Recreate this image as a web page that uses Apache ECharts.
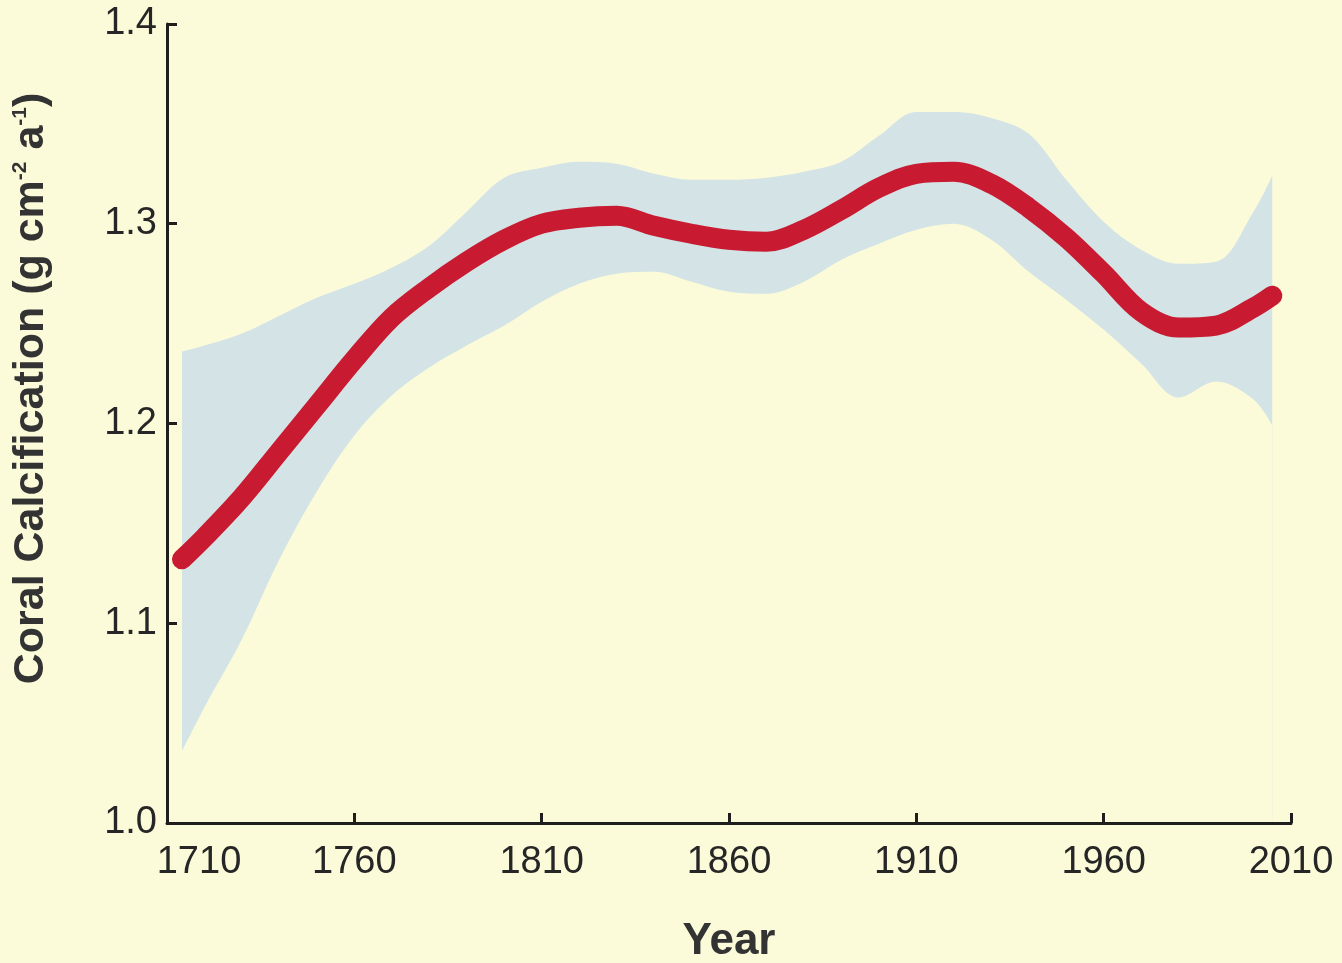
<!DOCTYPE html>
<html>
<head>
<meta charset="utf-8">
<title>Coral Calcification</title>
<script src="https://cdn.jsdelivr.net/npm/echarts@6/dist/echarts.min.js"></script>
<style>
  html, body { margin: 0; padding: 0; background: #fbfbd9; }
  #chart { width: 1342px; height: 963px; }
</style>
</head>
<body>
<div id="chart"></div>
<script>
// Sample years of the smoothed calcification record
const years = [1714, 1720, 1730, 1740, 1750, 1760, 1770, 1780, 1790, 1800,
               1810, 1820, 1830, 1840, 1850, 1860, 1870, 1880, 1890, 1900,
               1910, 1920, 1930, 1940, 1950, 1960, 1970, 1980, 1990, 2000, 2005];

// Mean calcification (g cm-2 a-1)
const meanCalc = [1.132, 1.143, 1.163, 1.186, 1.209, 1.232, 1.253, 1.268, 1.281, 1.292,
                  1.300, 1.303, 1.304, 1.299, 1.295, 1.292, 1.291, 1.297, 1.307, 1.318,
                  1.325, 1.326, 1.320, 1.308, 1.293, 1.275, 1.256, 1.248, 1.249, 1.258, 1.264];

// Upper and lower bounds of the confidence band
const upperCalc = [1.236, 1.239, 1.245, 1.254, 1.263, 1.270, 1.278, 1.289, 1.306, 1.323,
                   1.328, 1.331, 1.330, 1.325, 1.322, 1.322, 1.323, 1.326, 1.331, 1.344,
                   1.356, 1.356, 1.353, 1.345, 1.322, 1.301, 1.287, 1.280, 1.281, 1.306, 1.324];
const lowerCalc = [1.036, 1.058, 1.092, 1.132, 1.166, 1.194, 1.214, 1.228, 1.239, 1.249,
                   1.261, 1.270, 1.275, 1.276, 1.271, 1.266, 1.265, 1.271, 1.282, 1.290,
                   1.297, 1.300, 1.292, 1.276, 1.262, 1.247, 1.230, 1.213, 1.221, 1.212, 1.199];

// Axis ranges and tick steps
const xRange = [1710, 2010], xStep = 50;
const yRange = [1.0, 1.4], yStep = 0.1;

const pairs = vals => years.map((y, i) => [y, vals[i]]);

const bgColor = '#fbfbd9';
const bandColor = '#d3e3e6';
const lineColor = '#c81a30';
const textColor = '#262626';
const axisColor = '#1e1e1e';
const fontFamily = '"Liberation Sans", Arial, Helvetica, sans-serif';
const curve = 0.35;

const chart = echarts.init(document.getElementById('chart'), null, { renderer: 'canvas' });

chart.setOption({
  backgroundColor: bgColor,
  animation: false,
  grid: { left: 167, right: 51, top: 24, bottom: 140, containLabel: false, outerBoundsMode: 'none' },
  xAxis: {
    type: 'value',
    z: 10,
    min: xRange[0], max: xRange[1], interval: xStep,
    name: 'Year',
    nameLocation: 'middle',
    nameGap: 97,
    nameTextStyle: { fontSize: 44, fontWeight: 'bold', color: '#333', fontFamily: fontFamily },
    axisLine: { show: true, onZero: false, lineStyle: { color: axisColor, width: 3 } },
    axisTick: { show: true, inside: true, length: 10, lineStyle: { color: axisColor, width: 3 } },
    splitLine: { show: false },
    axisLabel: {
      margin: 21,
      fontSize: 38,
      color: textColor,
      fontFamily: fontFamily,
      formatter: v => v === xRange[0] ? '{first|' + v + '}' : String(v),
      rich: { first: { fontSize: 38, color: textColor, fontFamily: fontFamily, padding: [0, 0, 0, 64] } }
    }
  },
  yAxis: {
    type: 'value',
    z: 10,
    min: yRange[0], max: yRange[1], interval: yStep,
    name: 'Coral Calcification (g cm{sup|-2} a{sup|-1})',
    nameLocation: 'middle',
    nameRotate: 90,
    nameGap: 114,
    nameTextStyle: {
      fontSize: 43, fontWeight: 'bold', color: '#333', fontFamily: fontFamily,
      padding: [0, 0, 0, 70],
      rich: { sup: { fontSize: 21, fontWeight: 'bold', color: '#333', fontFamily: fontFamily, verticalAlign: 'top' } }
    },
    axisLine: { show: true, onZero: false, lineStyle: { color: axisColor, width: 3 } },
    axisTick: { show: true, inside: true, length: 10, lineStyle: { color: axisColor, width: 3 } },
    splitLine: { show: false },
    axisLabel: {
      margin: 10,
      fontSize: 38,
      color: textColor,
      fontFamily: fontFamily,
      formatter: v => v.toFixed(1)
    }
  },
  series: [
    {
      // upper bound, filled down to the axis with the band colour
      name: 'upper',
      type: 'line',
      data: pairs(upperCalc),
      smooth: curve,
      symbol: 'none',
      lineStyle: { width: 0, opacity: 0 },
      areaStyle: { color: bandColor, opacity: 1, origin: 'start' },
      silent: true,
      z: 1
    },
    {
      // lower bound, cleared back to the background colour below it
      name: 'lower',
      type: 'line',
      data: pairs(lowerCalc),
      smooth: curve,
      symbol: 'none',
      lineStyle: { width: 0, opacity: 0 },
      areaStyle: { color: bgColor, opacity: 1, origin: 'start' },
      silent: true,
      z: 2
    },
    {
      name: 'mean',
      type: 'line',
      data: pairs(meanCalc),
      smooth: curve,
      symbol: 'none',
      lineStyle: { color: lineColor, width: 20, cap: 'round', join: 'round' },
      z: 3
    }
  ]
});
</script>
</body>
</html>
